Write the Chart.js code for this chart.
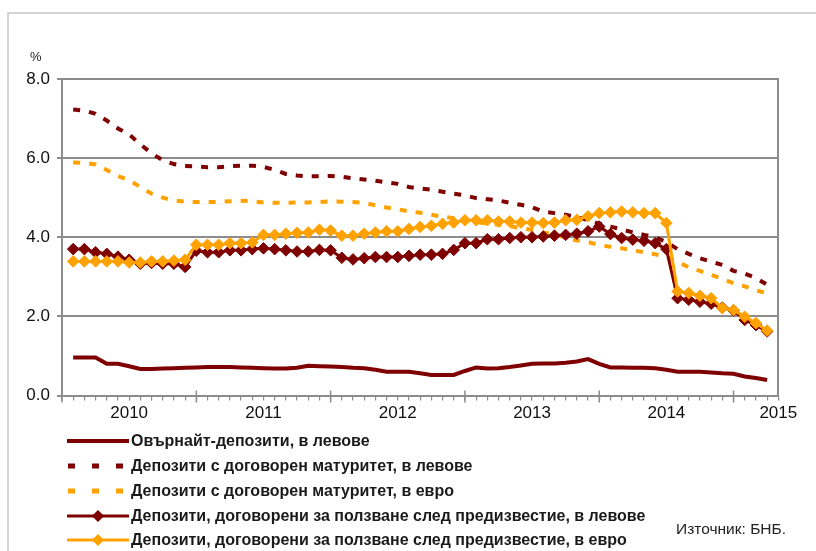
<!DOCTYPE html>
<html>
<head>
<meta charset="utf-8">
<script src="https://cdn.jsdelivr.net/npm/chart.js@4.4.1/dist/chart.umd.min.js"></script>
<style>
  html, body { margin: 0; padding: 0; background: #fff; }
  body { width: 816px; height: 551px; position: relative; overflow: hidden; font-family: "Liberation Sans", Arial, sans-serif; }
  #frame { position: absolute; left: 7px; top: 12px; width: 1000px; height: 1000px; border: 2px solid #d4d4d4; box-sizing: border-box; }
  #wrap { position: absolute; left: 0; top: 0; width: 816px; height: 551px; }
  #pct { position: absolute; left: 30px; top: 49px; font-size: 13px; color: #222; }
  .leg { position: absolute; left: 66px; height: 20px; display: flex; align-items: center; font-weight: bold; font-size: 16px; color: #1a1a1a; white-space: nowrap; }
  .leg svg { width: 64px; height: 20px; margin-right: 1px; flex: none; }
  #src { position: absolute; left: 676px; top: 520px; font-size: 15.5px; color: #222; }
</style>
</head>
<body>
<div id="frame"></div>
<div id="wrap"><canvas id="c" width="816" height="551"></canvas></div>
<div id="pct">%</div>
<div id="legend"></div>
<div id="src">Източник: БНБ.</div>
<script>
// Monthly observations, Jan 2010 – Mar 2015
const months = [
  '01.2010','02.2010','03.2010','04.2010','05.2010','06.2010','07.2010','08.2010','09.2010','10.2010','11.2010','12.2010',
  '01.2011','02.2011','03.2011','04.2011','05.2011','06.2011','07.2011','08.2011','09.2011','10.2011','11.2011','12.2011',
  '01.2012','02.2012','03.2012','04.2012','05.2012','06.2012','07.2012','08.2012','09.2012','10.2012','11.2012','12.2012',
  '01.2013','02.2013','03.2013','04.2013','05.2013','06.2013','07.2013','08.2013','09.2013','10.2013','11.2013','12.2013',
  '01.2014','02.2014','03.2014','04.2014','05.2014','06.2014','07.2014','08.2014','09.2014','10.2014','11.2014','12.2014',
  '01.2015','02.2015','03.2015'
];
const yearLabels = ['2010','2011','2012','2013','2014','2015'];
const yTicks = [0, 2, 4, 6, 8];

const seriesNames = [
  'Овърнайт-депозити, в левове',
  'Депозити с договорен матуритет, в левове',
  'Депозити с договорен матуритет, в евро',
  'Депозити, договорени за ползване след предизвестие, в левове',
  'Депозити, договорени за ползване след предизвестие, в евро'
];

const overnightBgn = [
  0.96,0.96,0.96,0.80,0.80,0.74,0.67,0.67,0.68,0.69,0.70,0.71,
  0.72,0.72,0.72,0.71,0.70,0.69,0.68,0.68,0.70,0.75,0.74,0.73,
  0.72,0.70,0.69,0.65,0.60,0.60,0.60,0.56,0.52,0.52,0.52,0.62,
  0.71,0.68,0.69,0.72,0.76,0.80,0.81,0.81,0.83,0.86,0.92,0.80,
  0.71,0.71,0.70,0.70,0.69,0.65,0.60,0.60,0.60,0.58,0.56,0.55,
  0.48,0.44,0.39
];
const maturityBgn = [
  7.23,7.20,7.12,6.95,6.75,6.60,6.35,6.12,5.95,5.85,5.80,5.79,
  5.77,5.77,5.80,5.81,5.81,5.78,5.70,5.60,5.56,5.54,5.54,5.55,
  5.53,5.49,5.46,5.43,5.39,5.35,5.27,5.23,5.20,5.15,5.10,5.06,
  4.99,4.96,4.93,4.87,4.82,4.76,4.65,4.61,4.57,4.50,4.44,4.34,
  4.27,4.20,4.12,4.06,4.00,3.88,3.70,3.58,3.47,3.38,3.30,3.15,
  3.08,2.97,2.80
];
const maturityEur = [
  5.89,5.88,5.84,5.70,5.55,5.44,5.27,5.10,5.00,4.93,4.90,4.89,
  4.89,4.89,4.91,4.92,4.91,4.88,4.87,4.87,4.88,4.88,4.89,4.91,
  4.90,4.89,4.87,4.81,4.75,4.71,4.65,4.62,4.57,4.52,4.48,4.42,
  4.38,4.35,4.32,4.28,4.23,4.19,4.12,4.07,3.99,3.92,3.88,3.80,
  3.76,3.72,3.67,3.62,3.57,3.50,3.38,3.24,3.15,3.05,2.95,2.84,
  2.76,2.66,2.58
];
const noticeBgn = [
  3.70,3.70,3.62,3.58,3.51,3.43,3.33,3.35,3.33,3.33,3.25,3.66,
  3.62,3.62,3.67,3.67,3.70,3.72,3.70,3.67,3.64,3.64,3.68,3.67,
  3.48,3.44,3.47,3.50,3.50,3.50,3.53,3.56,3.56,3.58,3.68,3.85,
  3.85,3.95,3.95,3.98,4.00,4.00,4.02,4.04,4.06,4.09,4.15,4.27,
  4.08,3.98,3.94,3.91,3.85,3.70,2.46,2.42,2.37,2.32,2.22,2.15,
  1.91,1.78,1.62
];
const noticeEur = [
  3.39,3.39,3.39,3.39,3.39,3.36,3.36,3.39,3.39,3.41,3.43,3.81,
  3.81,3.81,3.85,3.85,3.87,4.06,4.06,4.09,4.11,4.12,4.19,4.17,
  4.04,4.04,4.09,4.12,4.15,4.15,4.21,4.26,4.29,4.34,4.37,4.43,
  4.43,4.43,4.40,4.40,4.37,4.37,4.36,4.37,4.43,4.44,4.53,4.61,
  4.63,4.65,4.63,4.61,4.61,4.36,2.63,2.59,2.52,2.46,2.21,2.16,
  1.99,1.83,1.64
];

const DARK = '#7f0000';
const ORANGE = '#ffa200';
const GRID = '#8c8c8c';

// each observation sits on the month-end tick of the monthly axis
const toPts = arr => arr.map((v, i) => ({ x: i + 1, y: v }));
const axisMax = months.length + 1;

const styles = [
  { color: DARK,   dash: [],     width: 4, marker: false, order: 5 },
  { color: DARK,   dash: [7, 9], width: 4, marker: false, order: 4 },
  { color: ORANGE, dash: [7, 9], width: 4, marker: false, order: 3 },
  { color: DARK,   dash: [],     width: 3, marker: true,  order: 2 },
  { color: ORANGE, dash: [],     width: 3, marker: true,  order: 1 }
];
const values = [overnightBgn, maturityBgn, maturityEur, noticeBgn, noticeEur];

const datasets = values.map((arr, k) => ({
  label: seriesNames[k],
  data: toPts(arr),
  borderColor: styles[k].color,
  backgroundColor: styles[k].color,
  borderWidth: styles[k].width,
  borderDash: styles[k].dash,
  borderCapStyle: 'butt',
  tension: 0,
  order: styles[k].order,
  pointStyle: 'rectRot',
  pointRadius: styles[k].marker ? 5.8 : 0,
  pointBorderWidth: 1,
  pointBorderColor: styles[k].color,
  pointBackgroundColor: styles[k].color
}));

const majorTicks = {
  id: 'majorTicks',
  afterDraw(chart) {
    const sx = chart.scales.x, ctx = chart.ctx, b = chart.chartArea.bottom;
    ctx.save();
    ctx.strokeStyle = GRID;
    ctx.lineWidth = 1.5;
    for (let v = 0; v < axisMax; v += 12) {
      const px = sx.getPixelForValue(v);
      ctx.beginPath();
      ctx.moveTo(px, b - 5);
      ctx.lineTo(px, b + 7);
      ctx.stroke();
    }
    ctx.restore();
  }
};

new Chart(document.getElementById('c'), {
  type: 'line',
  data: { datasets },
  options: {
    responsive: false,
    animation: false,
    layout: { padding: { left: 0, top: 79, right: 37.7, bottom: 125.5 } },
    plugins: { legend: { display: false }, tooltip: { enabled: false } },
    scales: {
      x: {
        type: 'linear',
        min: 0,
        max: axisMax,
        afterFit(s) { s.height = 30; },
        afterBuildTicks(s) {
          const t = [];
          for (let v = 0; v <= axisMax; v++) t.push({ value: v });
          s.ticks = t;
        },
        ticks: {
          autoSkip: false,
          maxRotation: 0,
          padding: 3,
          color: '#111',
          font: { family: 'Liberation Sans', size: 17 },
          callback(v) {
            if (v === axisMax) return yearLabels[yearLabels.length - 1];
            if (v % 12 === 6) return yearLabels[(v - 6) / 12];
            return '';
          }
        },
        grid: { drawOnChartArea: false, drawTicks: true, tickLength: 5, color: GRID, lineWidth: 1.2 },
        border: { display: true, color: GRID, width: 2 }
      },
      y: {
        min: 0,
        max: 8,
        afterFit(s) { s.width = 62; },
        afterBuildTicks(s) { s.ticks = yTicks.map(v => ({ value: v })); },
        ticks: {
          padding: 7,
          color: '#111',
          font: { family: 'Liberation Sans', size: 17 },
          callback: v => v.toFixed(1)
        },
        grid: { color: GRID, lineWidth: 2, tickLength: 5, drawTicks: true },
        border: { display: true, color: GRID, width: 2 }
      },
      y2: {
        position: 'right',
        min: 0,
        max: 8,
        afterFit(s) { s.width = 0; },
        ticks: { display: false },
        grid: { display: false, drawOnChartArea: false, drawTicks: false },
        border: { display: true, color: GRID, width: 2 }
      }
    }
  },
  plugins: [majorTicks]
});

// HTML legend built from the same series definitions
const legendTops = [431, 456, 481, 506, 530];
const legend = document.getElementById('legend');
seriesNames.forEach((name, k) => {
  const st = styles[k];
  const row = document.createElement('div');
  row.className = 'leg';
  row.style.top = legendTops[k] + 'px';
  let svg;
  if (!st.marker && st.dash.length === 0) {
    svg = `<svg viewBox="0 0 64 20"><line x1="1" y1="10" x2="63" y2="10" stroke="${st.color}" stroke-width="4"/></svg>`;
  } else if (!st.marker) {
    svg = `<svg viewBox="0 0 64 20"><line x1="2" y1="10" x2="62" y2="10" stroke="${st.color}" stroke-width="5" stroke-dasharray="7 17"/></svg>`;
  } else {
    svg = `<svg viewBox="0 0 64 20"><line x1="1" y1="10" x2="63" y2="10" stroke="${st.color}" stroke-width="3"/><polygon points="32,4 38,10 32,16 26,10" fill="${st.color}"/></svg>`;
  }
  row.innerHTML = svg + '<span>' + name + '</span>';
  legend.appendChild(row);
});
</script>
</body>
</html>
